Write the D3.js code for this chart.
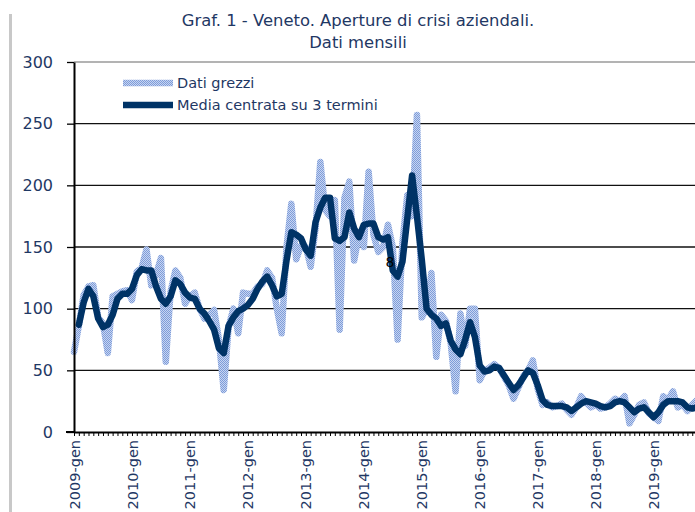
<!DOCTYPE html>
<html><head><meta charset="utf-8">
<script src="https://cdn.jsdelivr.net/npm/d3@7"></script>
<style>
html,body{margin:0;padding:0;background:#fff;}
svg{display:block;font-family:"DejaVu Sans",Verdana,sans-serif;}
</style></head><body>
<svg id="chart" width="695" height="512"></svg>
<script>
// ---- data ----
const anni = [2009,2010,2011,2012,2013,2014,2015,2016,2017,2018,2019];
const mesi = ["gen","feb","mar","apr","mag","giu","lug","ago","set","ott","nov","dic"];
const xTickLabels = ["2009-gen","2010-gen","2011-gen","2012-gen","2013-gen","2014-gen","2015-gen","2016-gen","2017-gen","2018-gen","2019-gen"];
const yTicks = [0,50,100,150,200,250,300];
const titleLines = ["Graf. 1 - Veneto. Aperture di crisi aziendali.","Dati mensili"];
const seriesNames = ["Dati grezzi","Media centrata su 3 termini"];

const datiGrezzi = [
 65, 86,111,118,119, 93, 88, 64,110,112,
114,115,107,130,133,148,119,128,141, 57,
114,131,125,104,110,113,100, 92, 95, 99,
 75, 34, 85,100, 80,113,112,112,118,120,
131,125,100, 80,150,185,140,151,150,134,
165,219,180,175,188, 83,190,203,139,160,
150,211,160,146,150,168,150, 75,153,192,
175,257, 93,100,129, 61, 95, 90, 72, 33,
 96, 70,100,100, 42, 50, 52, 55, 52, 45,
 38, 27, 36, 45, 50, 58, 35, 22, 24, 20,
 21, 23, 18, 14, 20, 29, 24, 20, 22, 19,
 20, 23, 27, 25, 29,  7, 14, 22, 24, 15,
 12,  9, 29, 26, 33, 20, 22, 17, 22, 26
];
const mediaCentrata = [
null, 87,105,116,110, 92, 85, 87, 95,108,
112,112,116,127,132,131,131,118,108,104,
110,123,120,113,109,108,100, 96, 90, 83,
 68, 64, 86, 93, 98,100,103,108,116,122,
126,119,110,112,139,162,160,157,148,143,
170,182,190,190,157,155,158,178,165,158,
168,169,169,158,156,158,131,126,138,173,
208,175,140,100, 95, 92, 86, 88, 74, 67,
 63, 75, 89, 77, 54, 49, 50, 53, 52, 46,
 40, 34, 38, 44, 50, 48, 38, 26, 22, 21,
 21, 21, 20, 17, 20, 23, 25, 24, 23, 21,
 20, 21, 24, 25, 24, 20, 16, 19, 20, 16,
 12, 16, 22, 25, 25, 25, 24, 20, 19, 20
];

// ---- setup ----
const categories = [];
anni.forEach(a => mesi.forEach(m => categories.push(a + "-" + m)));
const cats = categories.slice(0, datiGrezzi.length);

const navy = "#1f3864";
const svg = d3.select("#chart");

const x = d3.scalePoint().domain(cats).range([74, 74 + 4.83 * (cats.length - 1)]);
const y = d3.scaleLinear().domain([0, 300]).range([432, 62]);

const defs = svg.append("defs");
const pat = defs.append("pattern").attr("id","hatch").attr("patternUnits","userSpaceOnUse")
  .attr("width",2).attr("height",2);
pat.append("rect").attr("width",2).attr("height",2).attr("fill","#c7d5f1");
pat.append("rect").attr("width",1).attr("height",1).attr("fill","#7e9cd9");
pat.append("rect").attr("x",1).attr("y",1).attr("width",1).attr("height",1).attr("fill","#7e9cd9");

// frame bar on the left
svg.append("rect").attr("x",9).attr("y",14).attr("width",3).attr("height",498).attr("fill","#c8c8c8");

// title
svg.append("g").selectAll("text").data(titleLines).join("text")
  .attr("x",358).attr("y",(d,i)=>26 + i*22)
  .attr("text-anchor","middle").attr("font-size","16.4px").attr("fill",navy)
  .text(d=>d);

// gridlines
svg.append("g").selectAll("line").data(yTicks.filter(v=>v>0)).join("line")
  .attr("x1",74).attr("x2",695).attr("y1",d=>y(d)).attr("y2",d=>y(d))
  .attr("stroke",d=>d===300?"#9a9a9a":"#111").attr("stroke-width",1.3);

// lines
const line = d3.line().defined(d=>d[1]!=null).x(d=>x(d[0])).y(d=>y(d[1]));
svg.append("path").datum(cats.map((c,i)=>[c,datiGrezzi[i]]))
  .attr("d",line).attr("fill","none").attr("stroke","url(#hatch)")
  .attr("stroke-width",6.5).attr("stroke-linejoin","round").attr("stroke-linecap","round");
svg.append("path").datum(cats.map((c,i)=>[c,mediaCentrata[i]]))
  .attr("d",line).attr("fill","none").attr("stroke","#003366")
  .attr("stroke-width",6.5).attr("stroke-linejoin","round").attr("stroke-linecap","round");

// y axis
const gy = svg.append("g").attr("transform","translate(74,0)")
  .call(d3.axisLeft(y).tickValues(yTicks).tickSize(7).tickSizeOuter(0).tickPadding(14));
gy.select(".domain").attr("stroke","#000").attr("stroke-width",2);
gy.selectAll(".tick line").attr("stroke","#000").attr("stroke-width",1.3);
gy.selectAll(".tick text").attr("font-size","16px").attr("fill",navy).attr("font-family","DejaVu Sans");

// x axis
const gx = svg.append("g").attr("transform","translate(0,432)")
  .call(d3.axisBottom(x).tickValues(cats).tickSize(4).tickSizeOuter(0)
    .tickFormat(d => xTickLabels.includes(d) ? d : ""));
gx.select(".domain").attr("stroke","#000").attr("stroke-width",2);
gx.selectAll(".tick line").attr("stroke","#000").attr("stroke-width",1);
gx.selectAll(".tick text").attr("font-size","14.5px").attr("fill",navy).attr("font-family","DejaVu Sans")
  .attr("transform","rotate(-90)").attr("x",-8).attr("y",0).attr("dy","0.35em")
  .style("text-anchor","end");
gx.append("line").attr("x1",66).attr("x2",74).attr("y1",0).attr("y2",0).attr("stroke","#000").attr("stroke-width",2);

// legend
const leg = svg.append("g");
const legY = [83,105];
leg.append("line").attr("x1",123).attr("x2",173).attr("y1",legY[0]).attr("y2",legY[0])
  .attr("stroke","url(#hatch)").attr("stroke-width",6.5);
leg.append("line").attr("x1",123).attr("x2",173).attr("y1",legY[1]).attr("y2",legY[1])
  .attr("stroke","#003366").attr("stroke-width",6.5);
leg.selectAll("text").data(seriesNames).join("text")
  .attr("x",177).attr("y",(d,i)=>legY[i]).attr("dy","0.35em")
  .attr("font-size","14.5px").attr("fill",navy).text(d=>d);

// stray data label
svg.append("text").attr("x",390).attr("y",262).attr("dy","0.35em").attr("text-anchor","middle")
  .attr("font-size","14px").attr("fill","#000").text("8");
</script>
</body></html>
